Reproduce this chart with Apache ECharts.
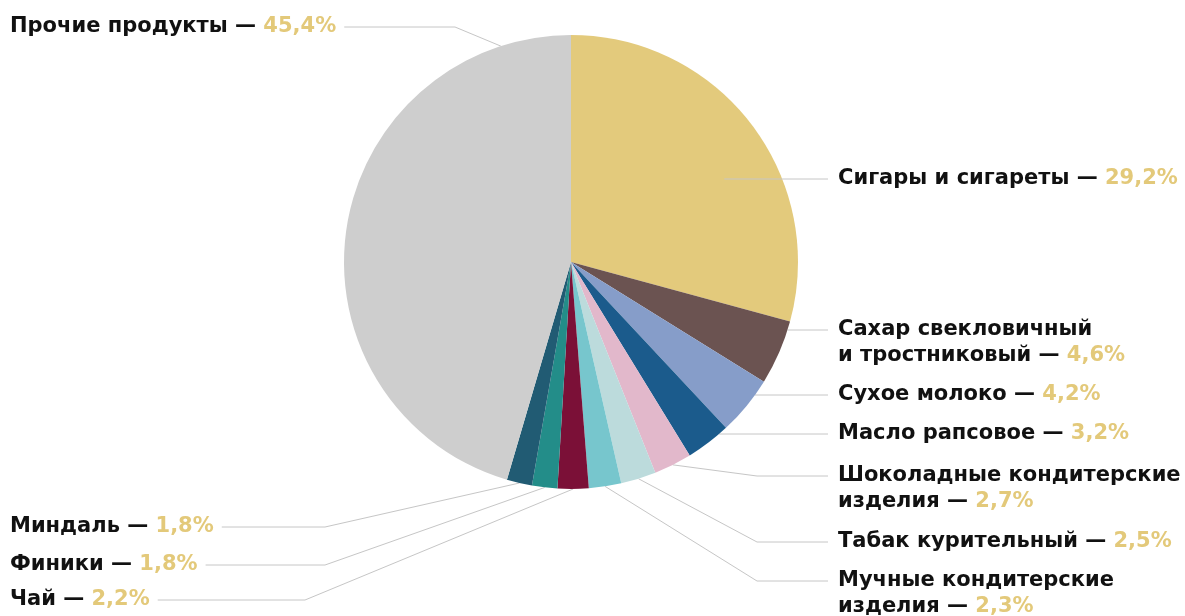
<!DOCTYPE html>
<html lang="ru">
<head>
<meta charset="UTF-8">
<title>Структура импорта</title>
<style>
  html, body { margin: 0; padding: 0; background: #fff; }
  #chart { width: 1185px; height: 616px; }
</style>
</head>
<body>
<div id="chart"></div>
<script src="https://cdn.jsdelivr.net/npm/echarts@6/dist/echarts.min.js"></script>
<script>
var names = [
  'Сигары и сигареты',
  'Сахар свекловичный\nи тростниковый',
  'Сухое молоко',
  'Масло рапсовое',
  'Шоколадные кондитерские\nизделия',
  'Табак курительный',
  'Мучные кондитерские\nизделия',
  'Чай',
  'Финики',
  'Миндаль',
  'Прочие продукты'
];
var values = [29.2, 4.6, 4.2, 3.2, 2.7, 2.5, 2.3, 2.2, 1.8, 1.8, 45.4];
var colors = ['#e3ca7c', '#6b5351', '#869dc9', '#1b5b8c', '#e2b8cb', '#bcdbdc',
              '#77c6cd', '#7b1037', '#238d89', '#215b73', '#cecece'];

// pie geometry
var cx = 571, cy = 262, R = 227;
var lineH = 26;
var lineColor = '#c6c6c6';

// where each label sits: y of first text line, elbow x, how the leader starts
var spots = [
  { side: 'r', y: 179, from: 'edge', inset: 58 },
  { side: 'r', y: 330, from: 'edge' },
  { side: 'r', y: 395, from: 'edge' },
  { side: 'r', y: 434, from: 'edge' },
  { side: 'r', y: 476, from: 'mid', bend: 757 },
  { side: 'r', y: 542, from: 'mid', bend: 757 },
  { side: 'r', y: 581, from: 'mid', bend: 757 },
  { side: 'l', y: 600, from: 'mid', bend: 305 },
  { side: 'l', y: 565, from: 'mid', bend: 325 },
  { side: 'l', y: 527, from: 'mid', bend: 325 },
  { side: 'l', y: 27, from: -18, bend: 455 }
];

function pct(v) {
  return v.toFixed(1).replace('.', ',') + '%';
}

function edgeX(y) {
  var dy = y - cy;
  return cx + Math.sqrt(R * R - dy * dy);
}

var data = names.map(function (n, i) {
  return { name: n, value: values[i], itemStyle: { color: colors[i] } };
});

// part of a leader that runs inside the slice (drawn over the pie)
var innerLines = [];
spots.forEach(function (s) {
  if (s.inset) {
    innerLines.push({
      type: 'line',
      z: 50,
      silent: true,
      shape: { x1: edgeX(s.y) - s.inset, y1: s.y, x2: edgeX(s.y), y2: s.y },
      style: { stroke: lineColor, lineWidth: 1 }
    });
  }
});

var chart = echarts.init(document.getElementById('chart'));

chart.setOption({
  backgroundColor: '#fff',
  animation: false,
  graphic: innerLines,
  series: [{
    type: 'pie',
    center: [cx, cy],
    radius: R,
    startAngle: 90,
    clockwise: true,
    avoidLabelOverlap: false,
    minShowLabelAngle: 0,
    emphasis: { disabled: true },
    data: data,
    label: {
      show: true,
      position: 'outside',
      formatter: function (p) {
        var parts = p.name.split('\n');
        var last = parts.pop();
        var out = parts.map(function (s) { return '{n|' + s + '}'; });
        out.push('{n|' + last + ' — }{v|' + pct(p.value) + '}');
        return out.join('\n');
      },
      rich: {
        n: { fontFamily: 'DejaVu Sans', fontWeight: 'bold', fontSize: 21, color: '#111', lineHeight: lineH },
        v: { fontFamily: 'DejaVu Sans', fontWeight: 'bold', fontSize: 21, color: '#e3c97a', lineHeight: lineH }
      }
    },
    labelLine: {
      show: true,
      length: 20,
      length2: 20,
      lineStyle: { color: lineColor, width: 1 }
    },
    labelLayout: function (p) {
      var s = spots[p.dataIndex];
      var right = s.side === 'r';
      var start;
      if (s.from === 'edge') {
        start = [edgeX(s.y), s.y];
      } else if (s.from === 'mid') {
        start = p.labelLinePoints ? p.labelLinePoints[0] : [cx, cy];
      } else {
        var a = s.from * Math.PI / 180;
        start = [cx + R * Math.sin(a), cy - R * Math.cos(a)];
      }
      var endX = right ? 828 : 10 + p.labelRect.width + 8;
      var bend = s.bend ? [s.bend, s.y] : start;
      return {
        x: right ? 838 : 10,
        y: s.y - lineH / 2,
        align: 'left',
        verticalAlign: 'top',
        labelLinePoints: [start, bend, [endX, s.y]]
      };
    }
  }]
});
</script>
</body>
</html>
